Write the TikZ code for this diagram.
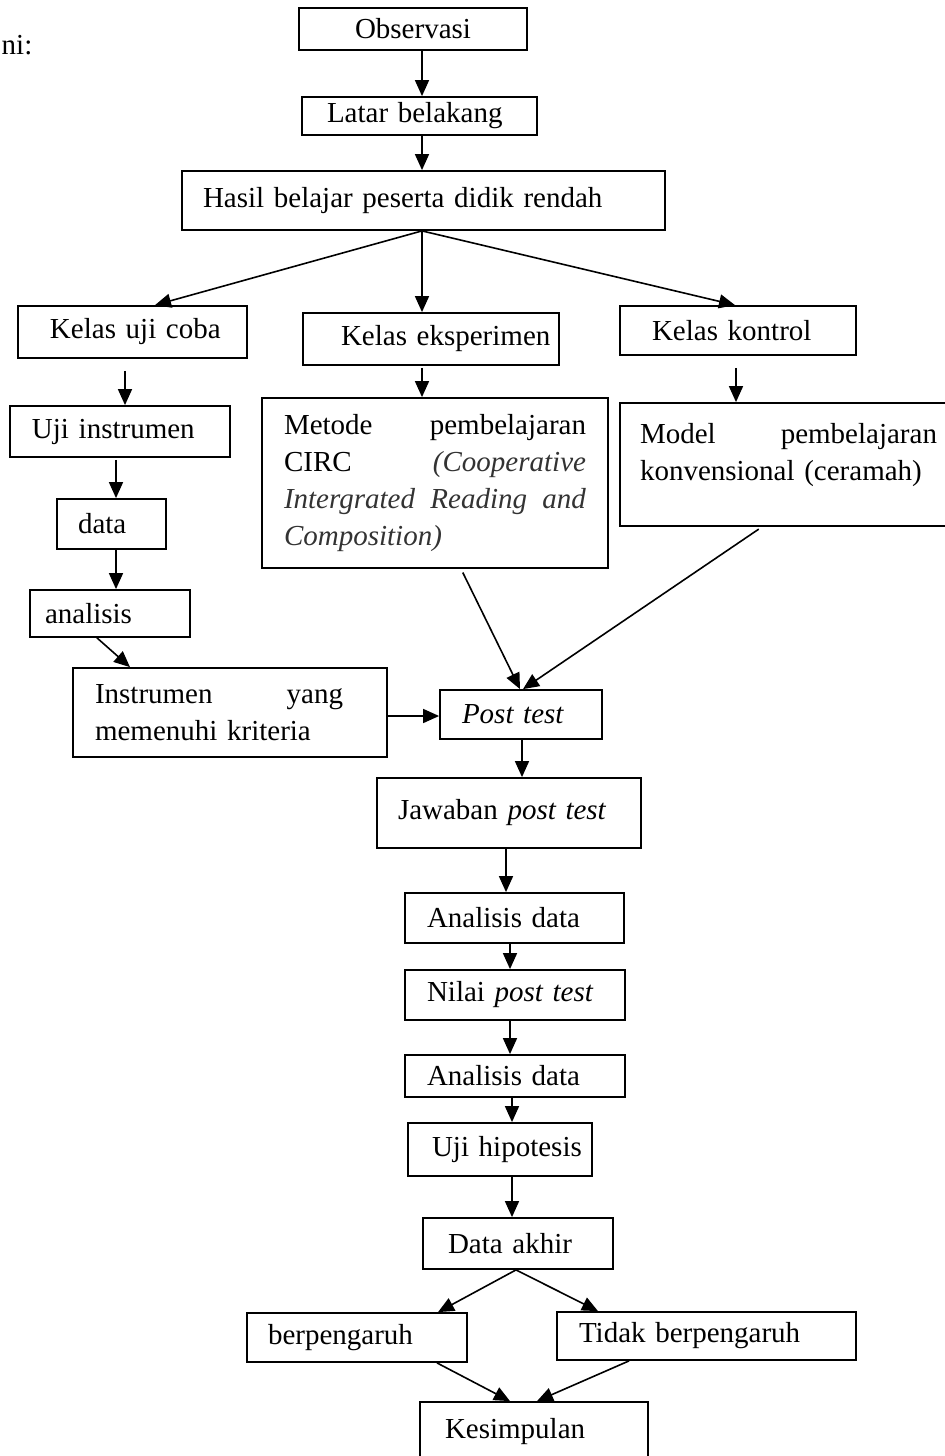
\documentclass[tikz,border=0pt]{standalone}
\usepackage{fontspec}
\setmainfont{Liberation Serif}
\usetikzlibrary{arrows.meta}
\newcommand\padtext[2]{\hspace*{#1}\mbox{#2}}
\begin{document}
\begin{tikzpicture}[x=0.5pt,y=-0.5pt,
  bx/.style={draw, line width=0.9pt, inner xsep=0pt, inner ysep=2pt, align=left,
    font=\fontsize{14.5}{18.5}\selectfont},
  arr/.style={-{Triangle[length=8pt,width=7pt]}, line width=0.8pt},
  plain/.style={inner sep=0pt, font=\fontsize{14.5}{18.5}\selectfont}]
\useasboundingbox (0,0) rectangle (945,1456);
\fill[white] (0,0) rectangle (945,1456);

\node[plain] (ni) at (17,45) {ni:};

\node[bx, text width=114pt, minimum height=21pt, align=center] (obs) at (413,29) {Observasi};
\node[bx, text width=117.5pt, minimum height=19pt] (lat) at (419.5,116) {\padtext{12.5pt}{Latar belakang}};
\node[bx, text width=241.5pt, minimum height=29.5pt] (has) at (423.5,200.5) {\padtext{10.5pt}{Hasil belajar peserta didik rendah}};
\node[bx, text width=114.5pt, minimum height=26pt] (kuc) at (132.5,332) {\padtext{16pt}{Kelas uji coba}};
\node[bx, text width=128pt, minimum height=26pt] (kek) at (431,339) {\padtext{19pt}{Kelas eksperimen}};
\node[bx, text width=118pt, minimum height=24.5pt] (kk) at (738,330.5) {\padtext{16pt}{Kelas kontrol}};
\node[bx, text width=110pt, minimum height=25.5pt] (ui) at (120,431.5) {\padtext{11pt}{Uji instrumen}};
\node[bx, text width=54.5pt, minimum height=25pt] (data) at (111.5,524) {\padtext{10.5pt}{data}};
\node[bx, text width=80pt, minimum height=23.5pt] (ana) at (110,613.5) {\padtext{7.5pt}{analisis}};
\node[bx, inner xsep=11pt, text width=151pt, minimum height=85pt] (met) at (435,483)
  {Metode\hfill pembelajaran\\
   CIRC\hfill{\color{black!80}\textit{(Cooperative}}\\
   {\color{black!80}\textit{Intergrated}\hfill\textit{Reading}\hfill\textit{and}}\\
   {\color{black!80}\textit{Composition)}}};
\node[bx, text width=166pt, minimum height=61.5pt] (mod) at (786,464.5)
  {\hspace*{10pt}\makebox[148.5pt]{Model\hfill pembelajaran}\\
   \hspace*{10pt}konvensional (ceramah)\\[-6pt]\mbox{}};
\node[bx, text width=157pt, minimum height=44.5pt] (ins) at (230,712.5)
  {\hspace*{11pt}\makebox[124pt]{Instrumen\hfill yang}\\
   \hspace*{11pt}memenuhi kriteria};
\node[bx, text width=81pt, minimum height=24.5pt] (pt) at (521,714.5) {\padtext{11pt}{\textit{Post test}}};
\node[bx, text width=132pt, minimum height=35pt] (jaw) at (509,813) {\padtext{10.5pt}{Jawaban \textit{post test}}};
\node[bx, text width=109.5pt, minimum height=25pt] (ad1) at (514.5,918) {\padtext{11pt}{Analisis data}};
\node[bx, text width=110pt, minimum height=25pt] (nil) at (515,995) {\padtext{11pt}{Nilai \textit{post test}}};
\node[bx, text width=110pt, minimum height=21pt] (ad2) at (515,1076) {\padtext{11pt}{Analisis data}};
\node[bx, text width=92pt, minimum height=26.5pt] (uh) at (500,1149.5) {\padtext{12pt}{Uji hipotesis}};
\node[bx, text width=95pt, minimum height=25.5pt] (da) at (518,1243.5) {\padtext{12.5pt}{Data akhir}};
\node[bx, text width=110pt, minimum height=24.5pt] (bp) at (357,1337.5) {\padtext{10.5pt}{berpengaruh}};
\node[bx, text width=149.5pt, minimum height=24pt] (tbp) at (706.5,1336) {\padtext{11pt}{Tidak berpengaruh}};
\node[bx, text width=114pt, minimum height=30pt] (kes) at (534,1432) {\padtext{12.5pt}{Kesimpulan}};

\draw[arr] (obs.south -| 422,0) -- (lat.north -| 422,0);
\draw[arr] (lat.south -| 422,0) -- (has.north -| 422,0);
\draw[arr] (has.south -| 422,0) -- (kuc.north -| 155,0);
\draw[arr] (has.south -| 422,0) -- (kek.north -| 422,0);
\draw[arr] (has.south -| 422,0) -- (kk.north -| 735,0);
\draw[arr, shorten <=6pt] (kuc.south -| 125,0) -- (ui.north -| 125,0);
\draw[arr, shorten <=1pt] (kek.south -| 422,0) -- (met.north -| 422,0);
\draw[arr, shorten <=6pt] (kk.south -| 736,0) -- (mod.north -| 736,0);
\draw[arr, shorten <=1pt] (ui.south -| 116,0) -- (data.north -| 116,0);
\draw[arr] (data.south -| 116,0) -- (ana.north -| 116,0);
\draw[arr] (ana.south -| 97,0) -- (ins.north -| 130,0);
\draw[arr] (ins.east |- 0,716) -- (pt.west |- 0,716);
\draw[arr, shorten <=2pt] (met.south -| 461,0) -- (pt.north -| 520,0);
\draw[arr, shorten <=2pt] (mod.south -| 762,0) -- (pt.north -| 523,0);
\draw[arr] (pt.south -| 522,0) -- (jaw.north -| 522,0);
\draw[arr] (jaw.south -| 506,0) -- (ad1.north -| 506,0);
\draw[arr] (ad1.south -| 510,0) -- (nil.north -| 510,0);
\draw[arr] (nil.south -| 510,0) -- (ad2.north -| 510,0);
\draw[arr] (ad2.south -| 512,0) -- (uh.north -| 512,0);
\draw[arr] (uh.south -| 512,0) -- (da.north -| 512,0);
\draw[arr] (da.south -| 516,0) -- (bp.north -| 438,0);
\draw[arr] (da.south -| 516,0) -- (tbp.north -| 598,0);
\draw[arr] (bp.south -| 437,0) -- (kes.north -| 510,0);
\draw[arr] (tbp.south -| 629,0) -- (kes.north -| 537,0);
\end{tikzpicture}
\end{document}
